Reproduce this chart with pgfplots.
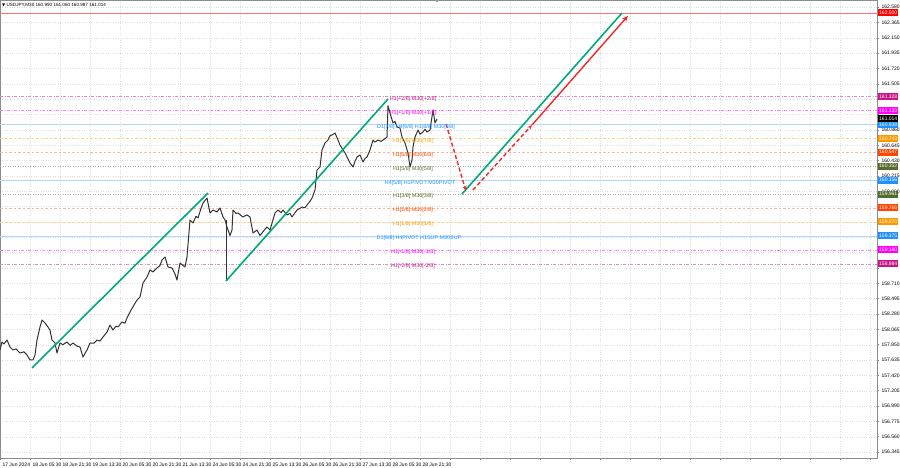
\documentclass[border=0pt]{standalone}
\usepackage{pgfplots}
\pgfplotsset{compat=1.18}
\usepackage{fontspec}
\setmainfont{Liberation Sans}
\newfontfamily\symfont{DejaVu Sans}
\usetikzlibrary{arrows.meta,calc}
\definecolor{mvr}{RGB}{199,21,133}
\definecolor{mag}{RGB}{255,0,255}
\definecolor{dblue}{RGB}{30,144,255}
\definecolor{orng}{RGB}{255,153,0}
\definecolor{ored}{RGB}{255,69,0}
\definecolor{olv}{RGB}{85,107,47}
\definecolor{tgreen}{RGB}{0,170,125}
\definecolor{tred}{RGB}{240,40,40}
\begin{document}
\begin{tikzpicture}
\path[use as bounding box] (0,0) rectangle (900pt,468pt);
\begin{axis}[
  at={(0pt,10pt)}, anchor=south west,
  scale only axis, width=877pt, height=458pt,
  xmin=0, xmax=877, ymin=156.261, ymax=162.682,
  axis line style={black!45, line width=0.5pt},
  clip=false,
  xtick={0,30,...,870},
  xticklabels={17 Jun 2024,18 Jun 05:30,18 Jun 21:30,19 Jun 13:30,20 Jun 05:30,20 Jun 21:30,21 Jun 13:30,24 Jun 05:30,24 Jun 21:30,25 Jun 13:30,26 Jun 05:30,26 Jun 21:30,27 Jun 13:30,28 Jun 05:30,28 Jun 21:30,,,,,,,,,,,,,,,},
  xtick pos=bottom, ytick pos=right,
  yticklabel pos=right,
  tick align=outside, major tick length=2pt,
  tick style={black!50, line width=0.4pt},
  ytick={162.580,162.365,162.150,161.935,161.720,161.505,161.290,161.075,160.860,160.645,160.430,160.215,160.000,159.785,159.570,159.355,159.140,158.925,158.710,158.495,158.280,158.065,157.850,157.635,157.420,157.205,156.990,156.775,156.560,156.345},
  yticklabels={162.580,162.365,162.150,161.935,161.720,161.505,,,160.860,160.645,160.430,160.215,160.000,,,,,,158.710,158.495,158.280,158.065,157.850,157.635,157.420,157.205,156.990,156.775,156.560,156.345},
  yticklabel style={font=\fontsize{5}{6}\selectfont, anchor=west, xshift=-1pt},
  xticklabel style={font=\fontsize{5}{6}\selectfont, anchor=north west, xshift=-1pt, yshift=1pt},
  grid=major,
  major grid style={black!13, dotted, line width=0.3pt},
]
% ---- horizontal levels ----
\addplot[red!55, line width=0.5pt] coordinates {(0,162.500) (877,162.500)};
\addplot[mvr!50, line width=0.5pt, dash pattern=on 3pt off 1.5pt on 1pt off 1.5pt] coordinates {(0,161.328) (877,161.328)};
\addplot[mag!50, line width=0.5pt, dash pattern=on 3pt off 1.5pt on 1pt off 1.5pt] coordinates {(0,161.133) (877,161.133)};
\addplot[dblue!35, line width=0.6pt] coordinates {(0,160.938) (877,160.938)};
\addplot[orng!45, line width=0.5pt, dash pattern=on 2.5pt off 2pt] coordinates {(0,160.743) (877,160.743)};
\addplot[ored!40, line width=0.5pt, dash pattern=on 2.5pt off 2pt] coordinates {(0,160.547) (877,160.547)};
\addplot[olv!50, line width=0.5pt, dash pattern=on 1pt off 1.5pt] coordinates {(0,160.352) (877,160.352)};
\addplot[dblue!35, line width=0.6pt] coordinates {(0,160.156) (877,160.156)};
\addplot[olv!50, line width=0.5pt, dash pattern=on 1pt off 1.5pt] coordinates {(0,159.961) (877,159.961)};
\addplot[ored!40, line width=0.5pt, dash pattern=on 2.5pt off 2pt] coordinates {(0,159.766) (877,159.766)};
\addplot[orng!45, line width=0.5pt, dash pattern=on 2.5pt off 2pt] coordinates {(0,159.570) (877,159.570)};
\addplot[dblue!35, line width=0.6pt] coordinates {(0,159.375) (877,159.375)};
\addplot[mag!50, line width=0.5pt, dash pattern=on 3pt off 1.5pt on 1pt off 1.5pt] coordinates {(0,159.180) (877,159.180)};
\addplot[mvr!50, line width=0.5pt, dash pattern=on 3pt off 1.5pt on 1pt off 1.5pt] coordinates {(0,158.984) (877,158.984)};
% ---- price ----
\addplot[black!80, line width=1.0pt, line join=round] coordinates {
(0,157.775)(2,157.887)(4,157.860)(7,157.915)(10,157.817)(13,157.775)(16,157.790)(20,157.733)(24,157.750)(27,157.705)(30,157.635)(33,157.635)(35,157.705)(37,157.915)(40,158.097)(42,158.196)(45,158.154)(48,158.097)(50,158.055)(52,157.915)(55,157.873)(57,157.733)(60,157.873)(63,157.850)(67,157.887)(70,157.840)(73,157.873)(77,157.830)(80,157.817)(83,157.677)(87,157.775)(90,157.873)(94,157.870)(97,157.915)(100,157.900)(103,157.957)(107,158.027)(110,158.125)(113,158.055)(116,158.110)(118,158.097)(122,158.168)(125,158.150)(127,158.224)(130,158.308)(134,158.406)(137,158.476)(140,158.518)(143,158.714)(147,158.798)(150,158.897)(153,158.870)(157,158.925)(160,158.960)(162,159.037)(165,159.079)(168,158.939)(172,158.925)(175,158.840)(177,158.756)(180,158.995)(183,158.960)(185,158.939)(187,159.079)(190,159.598)(193,159.556)(196,159.650)(198,159.626)(201,159.760)(203,159.836)(205,159.870)(207,159.906)(210,159.696)(213,159.738)(217,159.710)(220,159.766)(223,159.640)(225,159.598)(227,159.499)(230,159.380)(232,159.457)(233,159.738)(236,159.690)(238,159.696)(241,159.660)(243,159.640)(247,159.670)(250,159.640)(253,159.415)(257,159.457)(260,159.380)(262,159.415)(265,159.470)(267,159.499)(270,159.457)(273,159.600)(275,159.696)(278,159.738)(281,159.700)(283,159.738)(287,159.668)(290,159.690)(292,159.640)(297,159.738)(300,159.760)(302,159.780)(305,159.770)(307,159.808)(310,159.860)(312,159.906)(315,160.018)(317,160.299)(320,160.341)(322,160.579)(325,160.677)(328,160.719)(330,160.780)(332,160.789)(335,160.817)(338,160.719)(340,160.649)(343,160.579)(345,160.540)(347,160.481)(350,160.397)(353,160.341)(355,160.420)(357,160.481)(360,160.509)(363,160.411)(365,160.460)(367,160.481)(370,160.579)(373,160.719)(375,160.690)(378,160.719)(381,160.700)(383,160.719)(387,160.761)(388,161.200)(390,161.098)(393,160.958)(395,160.980)(397,160.901)(400,160.887)(402,160.761)(405,160.677)(408,160.537)(410,160.341)(412,160.439)(413,160.621)(415,160.761)(418,160.859)(420,160.800)(423,160.831)(425,160.870)(427,160.831)(430,160.859)(433,161.140)(435,160.958)(437,161.014)
};
\addplot[black!80, line width=0.6pt] coordinates {(226,159.600) (226,158.742)};
% ---- trend lines ----
\addplot[tgreen, line width=1.6pt] coordinates {(32,157.523) (208,159.976)};
\addplot[tgreen, line width=1.6pt] coordinates {(226,158.742) (388,161.294)};
\addplot[tgreen, line width=1.6pt] coordinates {(462,159.962) (622,162.500)};
\addplot[tred, line width=1.4pt, dash pattern=on 4pt off 2.5pt, -{Stealth[length=5pt,width=4pt]}] coordinates {(446,160.944) (466,160.004)};
\addplot[tred, line width=1.4pt, dash pattern=on 4pt off 2.5pt, -{Stealth[length=5pt,width=4pt]}] coordinates {(473,160.018) (532,160.930)};
\addplot[tred, line width=1.4pt, -{Stealth[length=6pt,width=5pt]}] coordinates {(532,160.930) (628,162.460)};
% ---- level texts ----
\begin{scope}[every node/.style={font=\fontsize{5.4}{6}\selectfont, inner sep=0pt, yshift=-2.5pt}]
\node[text=mvr] at (axis cs:413,161.328) {H1[+2/8] M30[+2/8]};
\node[text=mag] at (axis cs:413,161.133) {H1[+1/8] M30[+1/8]};
\node[text=dblue] at (axis cs:416,160.938) {D1[7/8] H4[6/8] H1[8/8] M30[8/8]};
\node[text=orng] at (axis cs:413,160.743) {H1[7/8] M30[7/8]};
\node[text=ored] at (axis cs:413,160.547) {H1[6/8] M30[6/8]};
\node[text=olv] at (axis cs:413,160.352) {H1[5/8] M30[5/8]};
\node[text=dblue] at (axis cs:420,160.156) {H4[5/8] H1PIVOT M30PIVOT};
\node[text=olv] at (axis cs:413,159.961) {H1[3/8] M30[3/8]};
\node[text=ored] at (axis cs:413,159.766) {H1[2/8] M30[2/8]};
\node[text=orng] at (axis cs:413,159.570) {H1[1/8] M30[1/8]};
\node[text=dblue] at (axis cs:419,159.375) {D1[6/8] H4PIVOT H1SUP M30SUP};
\node[text=mag] at (axis cs:413,159.180) {H1[-1/8] M30[-1/8]};
\node[text=mvr] at (axis cs:413,158.984) {H1[-2/8] M30[-2/8]};
\end{scope}
% coordinates for right price boxes
\coordinate (b1) at (axis cs:877,162.500);
\coordinate (b2) at (axis cs:877,161.328);
\coordinate (b3) at (axis cs:877,161.133);
\coordinate (b4) at (axis cs:877,160.938);
\coordinate (b5) at (axis cs:877,161.014);
\coordinate (b6) at (axis cs:877,160.743);
\coordinate (b7) at (axis cs:877,160.547);
\coordinate (b8) at (axis cs:877,160.352);
\coordinate (b9) at (axis cs:877,160.156);
\coordinate (b10) at (axis cs:877,159.961);
\coordinate (b11) at (axis cs:877,159.766);
\coordinate (b12) at (axis cs:877,159.570);
\coordinate (b13) at (axis cs:877,159.375);
\coordinate (b14) at (axis cs:877,159.180);
\coordinate (b15) at (axis cs:877,158.984);
\coordinate (tl) at (rel axis cs:0,1);
\coordinate (tm) at (axis cs:437,162.682);
\end{axis}
\begin{scope}[every node/.style={font=\fontsize{5}{6}\selectfont, text=white, anchor=west, xshift=1pt, inner xsep=1pt, inner ysep=0pt, minimum height=7pt}]
\node[fill=red] at (b1) {162.500};
\node[fill=mvr] at (b2) {161.328};
\node[fill=mag] at (b3) {161.133};
\node[fill=dblue] at (b4) {160.938};
\node[fill=black] at (b5) {161.014};
\node[fill=orng] at (b6) {160.743};
\node[fill=ored] at (b7) {160.547};
\node[fill=olv] at (b8) {160.352};
\node[fill=dblue] at (b9) {160.156};
\node[fill=olv] at (b10) {159.961};
\node[fill=ored] at (b11) {159.766};
\node[fill=orng] at (b12) {159.570};
\node[fill=dblue] at (b13) {159.375};
\node[fill=mag] at (b14) {159.180};
\node[fill=mvr] at (b15) {158.984};
\end{scope}
\node[anchor=north west, font=\fontsize{4.6}{5.5}\selectfont, inner sep=0pt, xshift=2pt, yshift=-3pt] at (tl) {{\symfont\fontsize{4}{5}\selectfont ▼}\ USDJPY,M30\ 160.990 161.060 160.987 161.014};
\fill[black!40] ($(tm)+(-2pt,0)$) -- ($(tm)+(2pt,0)$) -- ($(tm)+(0,-2.5pt)$) -- cycle;
\end{tikzpicture}
\end{document}
